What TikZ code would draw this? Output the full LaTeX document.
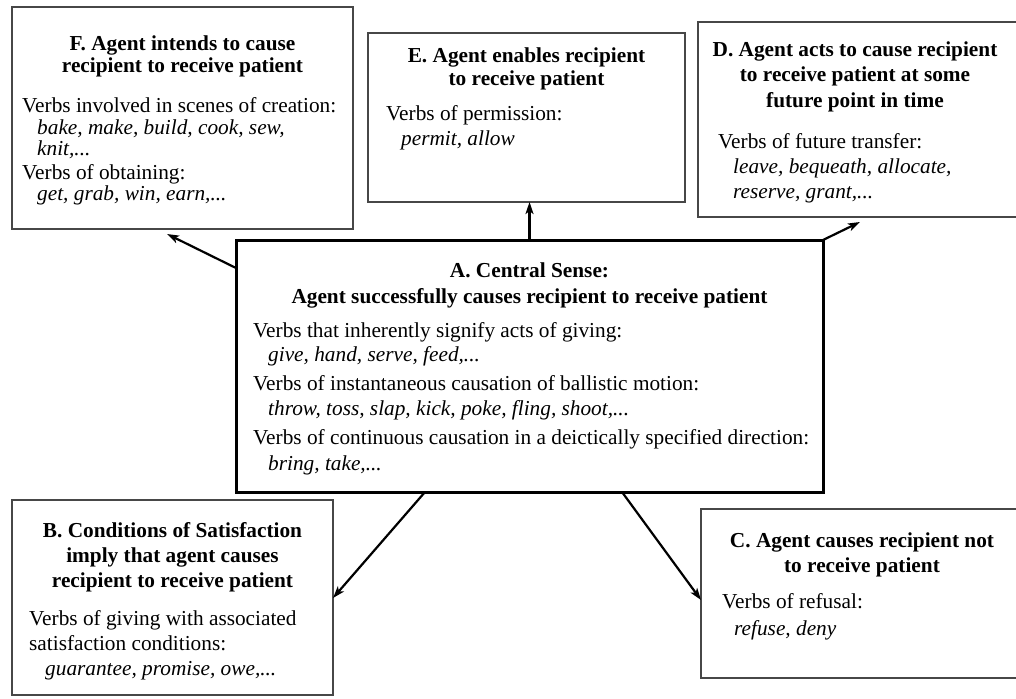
\documentclass[tikz,border=0pt]{standalone}
\usepackage{fontspec}
\setmainfont{Liberation Serif}
\usetikzlibrary{arrows.meta}
\begin{document}
\begin{tikzpicture}[x=1pt,y=-1pt,
  frame/.style={draw=black!72, line width=1.4pt, rectangle, inner sep=0pt, outer sep=0pt, anchor=north west},
  mainframe/.style={frame, draw=black, line width=3pt},
  ttl/.style={font=\fontsize{21.3}{24}\selectfont\bfseries, anchor=base, inner sep=0pt},
  body/.style={font=\fontsize{21.3}{24}\selectfont, anchor=base west, inner sep=0pt},
  ex/.style={font=\fontsize{21.3}{24}\selectfont\itshape, anchor=base west, inner sep=0pt},
  arr/.style={line width=2.2pt, -{Stealth[length=12pt,width=8pt,inset=3pt]}}]
\useasboundingbox (0,0) rectangle (1016,698);
\clip (0,0) rectangle (1016,698);

% ---- frames ----
\node[frame, minimum width=341pt, minimum height=222pt] (F) at (12,7) {};
\node[frame, minimum width=317pt, minimum height=169pt] (E) at (368,33) {};
\node[frame, minimum width=324pt, minimum height=195pt] (D) at (698,22) {};
\node[mainframe, minimum width=587pt, minimum height=252pt] (A) at (236,240) {};
\node[frame, minimum width=321pt, minimum height=195pt] (B) at (12,500) {};
\node[frame, minimum width=321pt, minimum height=169pt] (C) at (701,509) {};

% ---- F ----
\node[ttl] (F1) at (182.5,51) {F. Agent intends to cause};
\node[ttl] (F2) at (182.5,73) {recipient to receive patient};
\node[body] (F3) at (22,113) {Verbs involved in scenes of creation:};
\node[ex]   (F4) at (37,134) {bake, make, build, cook, sew,};
\node[ex]   (F5) at (37,155) {knit,...};
\node[body] (F6) at (22,179) {Verbs of obtaining:};
\node[ex]   (F7) at (37,200) {get, grab, win, earn,...};

% ---- E ----
\node[ttl] (E1) at (526.5,63) {E. Agent enables recipient};
\node[ttl] (E2) at (526.5,86) {to receive patient};
\node[body] (E3) at (386,121) {Verbs of permission:};
\node[ex]   (E4) at (401,145) {permit, allow};

% ---- D ----
\node[ttl] (D1) at (855,57) {D. Agent acts to cause recipient};
\node[ttl] (D2) at (855,82) {to receive patient at some};
\node[ttl] (D3) at (855,107) {future point in time};
\node[body] (D4) at (718,148) {Verbs of future transfer:};
\node[ex]   (D5) at (733,173) {leave, bequeath, allocate,};
\node[ex]   (D6) at (733,198) {reserve, grant,...};

% ---- A ----
\node[ttl] (A1) at (529.5,277) {A. Central Sense:};
\node[ttl] (A2) at (529.5,303) {Agent successfully causes recipient to receive patient};
\node[body] (A3) at (253,337) {Verbs that inherently signify acts of giving:};
\node[ex]   (A4) at (268,361) {give, hand, serve, feed,...};
\node[body] (A5) at (253,390) {Verbs of instantaneous causation of ballistic motion:};
\node[ex]   (A6) at (268,415) {throw, toss, slap, kick, poke, fling, shoot,...};
\node[body] (A7) at (253,444) {Verbs of continuous causation in a deictically specified direction:};
\node[ex]   (A8) at (268,470) {bring, take,...};

% ---- B ----
\node[ttl] (B1) at (172.5,537) {B. Conditions of Satisfaction};
\node[ttl] (B2) at (172.5,562) {imply that agent causes};
\node[ttl] (B3) at (172.5,587) {recipient to receive patient};
\node[body] (B4) at (29,625) {Verbs of giving with associated};
\node[body] (B5) at (29,650) {satisfaction conditions:};
\node[ex]   (B6) at (45,675) {guarantee, promise, owe,...};

% ---- C ----
\node[ttl] (C1) at (862,547) {C. Agent causes recipient not};
\node[ttl] (C2) at (862,572) {to receive patient};
\node[body] (C3) at (722,608) {Verbs of refusal:};
\node[ex]   (C4) at (734,635) {refuse, deny};

% ---- connectors ----
\draw[arr] ([yshift=-28pt]A.north west) -- ([xshift=155pt,yshift=-5pt]F.south west);
\draw[arr] (A.north) -- (A.north |- E.south);
\draw[arr] (A.north east) -- ([xshift=162pt,yshift=-5pt]D.south west);
\draw[arr] ([xshift=189pt]A.south west) -- ([yshift=-98pt]B.north east);
\draw[arr] ([xshift=386pt]A.south west) -- ([yshift=-91pt]C.north west);
\end{tikzpicture}
\end{document}
